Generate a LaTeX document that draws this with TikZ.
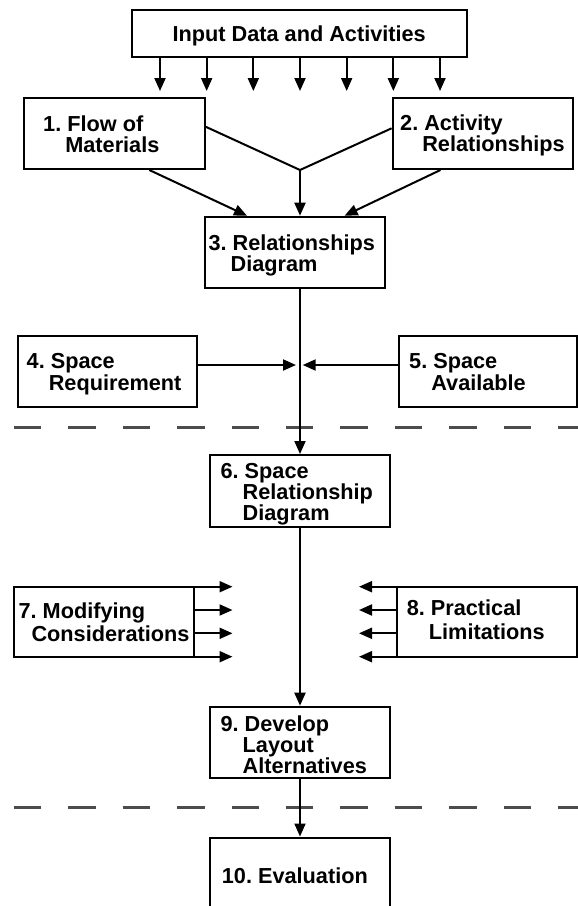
\documentclass[tikz,border=0pt]{standalone}
\usepackage{fontspec}
\setmainfont{Liberation Sans}
\usetikzlibrary{arrows.meta, fit}

\newcommand{\hang}[1]{\phantom{#1\ }\kern-2pt}

\tikzset{
	box/.style = {draw, line width = 2pt, inner sep = 0pt},
	boxlabel/.style = {font = \bfseries\fontsize{21.7}{#1}\selectfont, inner sep = 0pt, anchor = base west},
	boxlabel/.default = 21,
	link/.style = {line width = 2pt},
	arr/.style = {line width = 2pt, -{Triangle[length = 13pt, width = 11pt]}},
	divider/.style = {line width = 3.5pt, draw = black!70, dash pattern = on 27.3pt off 27.1pt}
}

\begin{document}
\begin{tikzpicture}[x = 1pt, y = -1pt]
		\useasboundingbox (0, 0) rectangle (578, 906);
		\clip (0, 0) rectangle (578, 906);
		
		% boxes
		\node [box, fit = {(131.7, 10) (466.7, 57.3)}] (input) {};
		\node [box, fit = {(24, 98.3) (204.6, 169)}] (flow) {};
		\node [box, fit = {(392.6, 98.3) (573.2, 169)}] (activity) {};
		\node [box, fit = {(204.6, 216.7) (385.2, 288.3)}] (relation) {};
		\node [box, fit = {(17.7, 336) (197.2, 406.7)}] (requirement) {};
		\node [box, fit = {(399.2, 336) (576.9, 406.7)}] (available) {};
		\node [box, fit = {(210.1, 455) (390, 527.3)}] (spacerel) {};
		\node [box, fit = {(14, 586.7) (193.5, 656.7)}] (modify) {};
		\node [box, fit = {(397.3, 586.7) (576.9, 656.7)}] (practical) {};
		\node [box, fit = {(210.1, 706.7) (389.6, 778.3)}] (develop) {};
		\node [box, fit = {(210.1, 837.5) (389.6, 930)}] (evaluation) {};
		
		% texts
		\node [boxlabel, anchor = base] (input text) at (299.2, 41.7) {Input Data and Activities};
		\node [boxlabel] (flow text) at (43, 131.7) {\vtop{\hbox{1.\ Flow of}\hbox{\hang{1.}Materials}}};
		\node [boxlabel] (activity text) at (400, 130) {\vtop{\hbox{2.\ Activity}\hbox{\hang{2.}Relationships}}};
		\node [boxlabel = 20] (relation text) at (208.3, 250) {\vtop{\hbox{3.\ Relationships}\hbox{\hang{3.}Diagram}}};
		\node [boxlabel = 22.4] (requirement text) at (26.5, 368.3) {\vtop{\hbox{4.\ Space}\hbox{\hang{4.}Requirement}}};
		\node [boxlabel = 22.4] (available text) at (409, 368.3) {\vtop{\hbox{5.\ Space}\hbox{\hang{5.}Available}}};
		\node [boxlabel = 20] (spacerel text) at (220.4, 478.3) {\vtop{\hbox{6.\ Space}\hbox{\hang{6.}Relationship}\hbox{\hang{6.}Diagram}}};
		\node [boxlabel = 23.4] (modify text) at (18.4, 618.3) {\vtop{\hbox{7.\ Modifying}\hbox{\hspace{12.9pt}Considerations}}};
		\node [boxlabel = 24] (practical text) at (406.6, 615) {\vtop{\hbox{8.\ Practical}\hbox{\hang{8.}Limitations}}};
		\node [boxlabel = 20.8] (develop text) at (220.4, 731.7) {\vtop{\hbox{9.\ Develop}\hbox{\hang{9.}Layout}\hbox{\hang{9.}Alternatives}}};
		\node [boxlabel] (evaluation text) at (221.7, 883.3) {10.\ Evaluation};
		
		% dividers
		\draw [divider] (14, 427.3) -- (600, 427.3);
		\draw [divider] (14, 807.7) -- (600, 807.7);
		
		% input arrows
		\foreach \i in {0, ..., 6}
			\draw [arr] (input.south -| {160 + 46.67*\i}, 0) -- ++(0, 32.7);
		
		% merge into relationships diagram
		\coordinate (meet) at (300, 170);
		
		\draw [link] (flow.east |- 0, 126.7) -- (meet);
		\draw [link] (activity.west |- 0, 128.3) -- (meet);
		\draw [arr] (meet) -- (meet |- relation.north);
		\draw [arr] (flow.south -| 149.3, 0) -- (relation.north -| 247, 0);
		\draw [arr] (activity.south -| 440.5, 0) -- (relation.north -| 344.6, 0);
		
		% main line
		\draw [arr] (relation.south -| meet) -- (meet |- spacerel.north);
		\draw [arr] (spacerel.south -| meet) -- (meet |- develop.north);
		\draw [arr] (develop.south -| meet) -- (meet |- evaluation.north);
		
		% space requirement and available
		\coordinate (req end) at (296, 365);
		\coordinate (avail end) at (302.7, 365);
		
		\draw [arr] (requirement.east |- req end) -- (req end);
		\draw [arr] (available.west |- avail end) -- (avail end);
		
		% modifying considerations and practical limitations
		\foreach \y in {586.7, 610, 633.3, 656.7} {
			\draw [arr] (modify.east |- 0, \y) -- (232.5, \y);
			\draw [arr] (practical.west |- 0, \y) -- (359, \y);
		}
	\end{tikzpicture}
\end{document}
